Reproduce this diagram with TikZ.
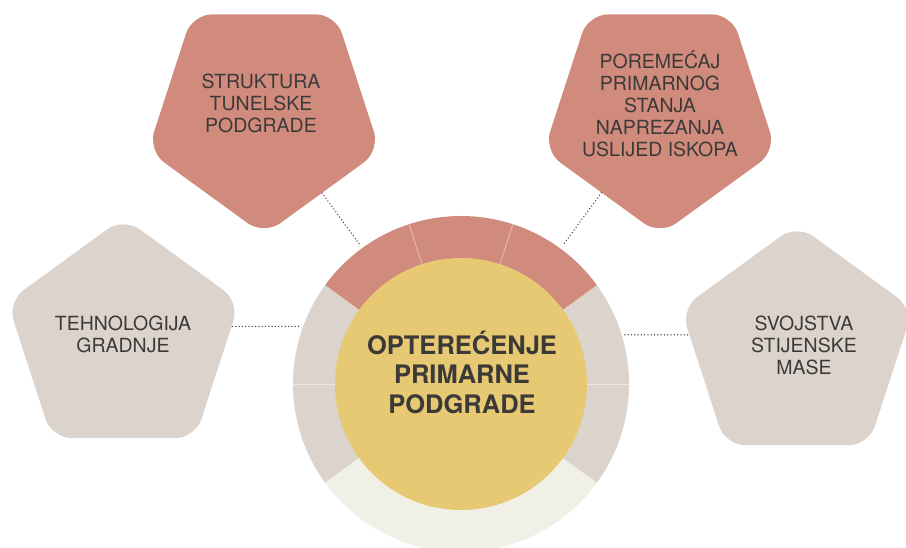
\documentclass[tikz,border=0pt]{standalone}
\usepackage{fontspec}
\setmainfont{TeX Gyre Heros}
\usetikzlibrary{shapes.geometric,calc}
\definecolor{salmon}{HTML}{D18B7D}
\definecolor{stone}{HTML}{DCD4CC}
\definecolor{mustard}{HTML}{E6C972}
\definecolor{pale}{HTML}{F0F0E6}
\definecolor{ink}{HTML}{3C3A38}
\definecolor{dotc}{HTML}{484848}
\begin{document}
\begin{tikzpicture}[x=1pt,y=1pt,
  pent/.style={regular polygon, regular polygon sides=5, minimum size=244pt, inner sep=0pt, rounded corners=20pt, draw=none},
  pentdown/.style={pent, shape border rotate=180},
  lbl/.style={align=center, text=ink, font=\fontsize{19.5}{22}\selectfont, inner sep=0pt},
  corelbl/.style={align=center, text=ink, font=\fontsize{25.5}{29.5}\selectfont\bfseries, inner sep=0pt},
  link/.style={draw=dotc, line width=1.5pt, dash pattern=on 0pt off 3.3pt, line cap=round},
  divider/.style={draw=white, draw opacity=0.45, line width=0.8pt},
]
\useasboundingbox (0,0) rectangle (906,548);
\fill[white] (0,0) rectangle (906,548);

% ring
\coordinate (c) at (461,164);
\node[circle, minimum size=336pt, inner sep=0pt] (ring) at (c) {};
\fill[salmon] (c) -- ++(36:168) arc[start angle=36, end angle=144, radius=168] -- cycle;
\fill[stone] (c) -- ++(144:168) arc[start angle=144, end angle=216, radius=168] -- cycle;
\fill[pale] (c) -- ++(216:168) arc[start angle=216, end angle=324, radius=168] -- cycle;
\fill[stone] (c) -- ++(-36:168) arc[start angle=-36, end angle=36, radius=168] -- cycle;
\foreach \a in {72,108,180,0}
  \draw[divider] ($(c)+(\a:120)$) -- ($(c)+(\a:168)$);

% core
\node[circle, fill=mustard, minimum size=252pt, inner sep=0pt] (core) at (c) {};
\node[corelbl] (coretxt) at (462,176) {OPTEREĆENJE\\PRIMARNE\\PODGRADE};

% pentagons
\node[pentdown, fill=salmon] (p1) at (264,435) {};
\node[pentdown, fill=salmon] (p2) at (660,435) {};
\node[pent, fill=stone] (p3) at (123.5,208.5) {};
\node[pent, fill=stone] (p4) at (797,201.5) {};

\node[lbl] (t1) at (261,445) {STRUKTURA\\TUNELSKE\\PODGRADE};
\node[lbl] (t2) at (660,444) {POREMEĆAJ\\PRIMARNOG\\STANJA\\NAPREZANJA\\USLIJED ISKOPA};
\node[lbl] (t3) at (123,214) {TEHNOLOGIJA\\GRADNJE};
\node[lbl] (t4) at (804,203) {SVOJSTVA\\STIJENSKE\\MASE};

% connectors
\draw[link, shorten >=5pt] (p1) -- (ring);
\draw[link, shorten >=5pt] (p2) -- (ring);
\draw[link, shorten >=3pt] ([xshift=5pt]p3.east |- ring.160) -- (ring.160);
\draw[link, shorten <=3pt] (ring.17) -- ([xshift=-3pt]p4.west |- ring.17);
\end{tikzpicture}
\end{document}
